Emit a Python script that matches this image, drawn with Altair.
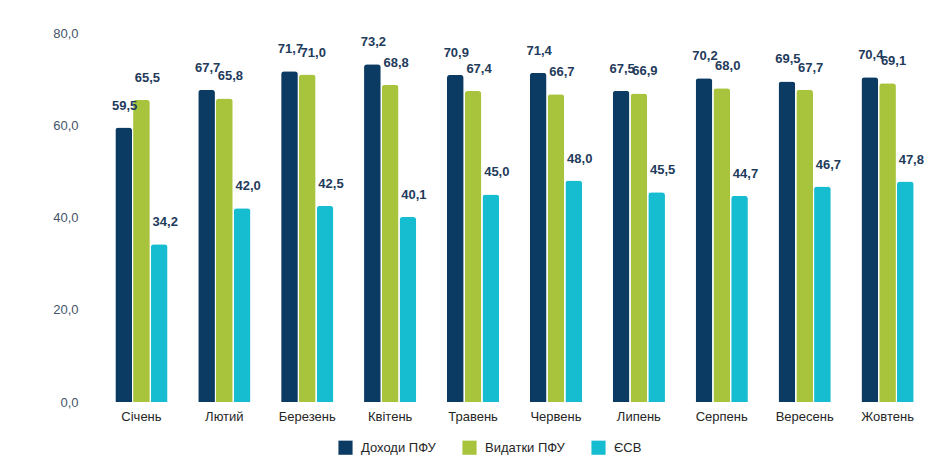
import altair as alt
import pandas as pd

months = ["Січень", "Лютий", "Березень", "Квітень", "Травень", "Червень",
          "Липень", "Серпень", "Вересень", "Жовтень"]
series = ["Доходи ПФУ", "Видатки ПФУ", "ЄСВ"]
income = [59.5, 67.7, 71.7, 73.2, 70.9, 71.4, 67.5, 70.2, 69.5, 70.4]
spend = [65.5, 65.8, 71.0, 68.8, 67.4, 66.7, 66.9, 68.0, 67.7, 69.1]
esv = [34.2, 42.0, 42.5, 40.1, 45.0, 48.0, 45.5, 44.7, 46.7, 47.8]
colors = ["#0b3a63", "#a8c33c", "#16bdd0"]
label_dx = [1, 6, 6]

rows = []
for i, m in enumerate(months):
    for s, vals in zip(series, [income, spend, esv]):
        rows.append({"month": m, "series": s, "value": vals[i]})
df = pd.DataFrame(rows)

x = alt.X("month:N", sort=months, title=None,
          scale=alt.Scale(paddingInner=0.37, paddingOuter=0.185),
          axis=alt.Axis(labelAngle=0, ticks=False, domain=False, labelPadding=8,
                        labelFontSize=13, labelColor="#262626", labelFont="Liberation Sans"))
xo = alt.XOffset("series:N", sort=series, scale=alt.Scale(domain=series, paddingInner=0.06))
y = alt.Y("value:Q", title=None,
          scale=alt.Scale(domain=[0, 80]),
          axis=alt.Axis(values=[0, 20, 40, 60, 80], grid=False, ticks=False, domain=False,
                        labelPadding=22, labelFontSize=13, labelColor="#44546a",
                        labelFont="Liberation Sans",
                        labelExpr="replace(format(datum.value, '.1f'), '.', ',')"))
color = alt.Color("series:N", sort=series, title=None,
                  scale=alt.Scale(domain=series, range=colors),
                  legend=alt.Legend(orient="none", legendX=238, legendY=407, direction="horizontal",
                                    symbolType="square", symbolSize=200, symbolStrokeWidth=0,
                                    labelFontSize=13, labelColor="#262626", labelFont="Liberation Sans",
                                    columnPadding=26, labelOffset=8))

bars = alt.Chart(df).mark_bar(cornerRadiusTopLeft=3, cornerRadiusTopRight=3).encode(
    x=x, xOffset=xo, y=y, color=color)

layers = [bars]
for s, d in zip(series, label_dx):
    layers.append(
        alt.Chart(df).transform_filter(alt.datum.series == s).transform_calculate(
            label="replace(format(datum.value, '.1f'), '.', ',')"
        ).mark_text(dy=-22, dx=d, fontWeight="bold", fontSize=13, color="#1f3b5c",
                    font="Liberation Sans").encode(
            x=alt.X("month:N", sort=months), xOffset=xo, y="value:Q", text="label:N")
    )

chart = alt.layer(*layers).properties(
    width=829, height=369,
    autosize=alt.AutoSizeParams(type="none"),
    padding={"left": 92, "top": 25, "right": 12, "bottom": 61},
).configure_view(stroke=None)

chart.save("out.html", embed_options={"renderer": "svg", "actions": False})
